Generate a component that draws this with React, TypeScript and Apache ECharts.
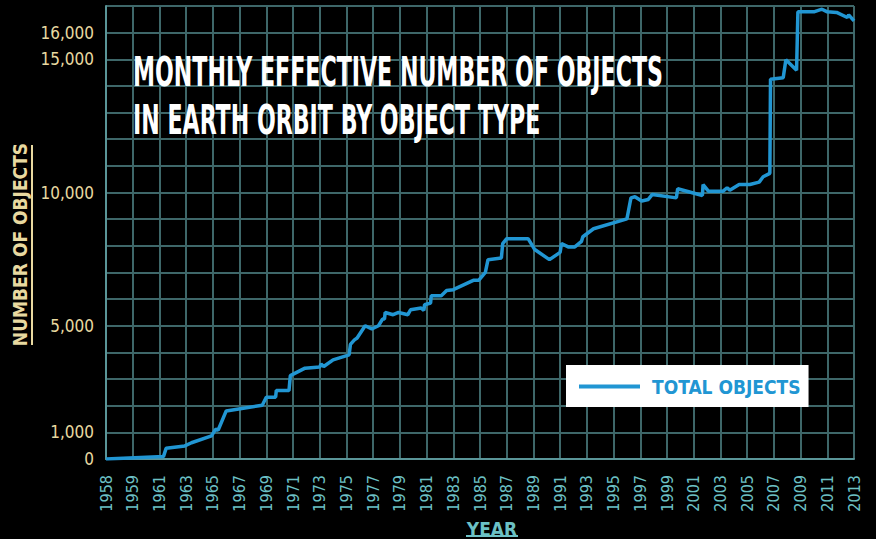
import React, { useEffect, useRef } from "react";
import * as echarts from "echarts";

// Year (decimal) and effective number of objects
const years: number[] = [
  1958.0, 1961.3, 1961.5, 1962.9, 1963.4, 1964.9, 1965.2, 1965.4, 1966.0, 1968.7,
  1969.0, 1969.7, 1969.75, 1970.7, 1970.8, 1971.9, 1973.0, 1973.1, 1973.3, 1974.0,
  1975.2, 1975.3, 1975.6, 1975.8, 1976.4, 1976.9, 1977.4, 1977.7, 1977.85, 1977.9,
  1978.5, 1978.9, 1979.6, 1979.8, 1980.6, 1980.8, 1980.85, 1981.3, 1981.35, 1982.1,
  1982.5, 1983.0, 1984.5, 1984.9, 1985.4, 1985.6, 1986.6, 1986.7, 1987.0, 1988.6,
  1989.1, 1990.2, 1991.0, 1991.1, 1991.6, 1992.1, 1992.6, 1992.7, 1993.5, 1996.0,
  1996.3, 1996.6, 1997.1, 1997.6, 1997.9, 1999.7, 1999.8, 2001.65, 2001.7, 2002.1,
  2003.2, 2003.5, 2003.7, 2004.4, 2005.2, 2005.9, 2006.2, 2006.7, 2006.75, 2007.7,
  2007.9, 2008.7, 2008.8, 2010.0, 2010.6, 2011.0, 2011.7, 2012.5, 2012.6, 2013.0,
];
const totalObjects: number[] = [
  0, 90, 400, 490, 610, 865, 1115, 1090, 1805, 2020,
  2320, 2320, 2570, 2570, 3130, 3410, 3450, 3570, 3470, 3720,
  3910, 4300, 4470, 4540, 5000, 4880, 5000, 5250, 5250, 5500,
  5415, 5500, 5415, 5600, 5665, 5580, 5790, 5855, 6130, 6130,
  6320, 6355, 6705, 6705, 7005, 7480, 7545, 8085, 8270, 8270,
  7860, 7480, 7755, 8085, 7960, 7960, 8170, 8340, 8640, 9010,
  9800, 9840, 9680, 9740, 9930, 9800, 10140, 9890, 10300, 10050,
  10050, 10180, 10090, 10300, 10300, 10390, 10590, 10720, 14250, 14310,
  14980, 14590, 16780, 16780, 16880, 16780, 16760, 16570, 16670, 16440,
];
// Tick labels of the year axis (evenly spaced, as in the original)
const yearTicks: string[] = [
  "1958", "1959", "1961", "1963", "1965", "1967", "1969", "1971", "1973", "1975",
  "1977", "1979", "1981", "1983", "1985", "1987", "1989", "1991", "1993", "1995",
  "1997", "1999", "2001", "2003", "2005", "2007", "2009", "2011", "2013",
];
const yLabelValues: number[] = [0, 1000, 5000, 10000, 15000, 16000];

const seriesName = "TOTAL OBJECTS";
const titleText = "MONTHLY EFFECTIVE NUMBER OF OBJECTS\nIN EARTH ORBIT BY OBJECT TYPE";

// Position of a year on the evenly spaced tick axis
const yearToPos = (y: number) => (y < 1959 ? y - 1958 : 1 + (y - 1959) / 2);

const FONT = '"Liberation Sans Narrow", "DejaVu Sans Condensed", "Roboto", sans-serif';
const YELLOW = "#e8d9a0";
const TEAL = "#6cc1c5";
const GRID = "#3e6769";
const BLUE = "#2196d3";

export default function App() {
  const ref = useRef<HTMLDivElement>(null);
  useEffect(() => {
    if (!ref.current) return;
    const chart = echarts.init(ref.current, null, { renderer: "svg" });
    const data = years.map((y, i) => [yearToPos(y), totalObjects[i]]);
    chart.setOption({
      animation: false,
      backgroundColor: "#000",
      textStyle: { fontFamily: FONT },
      grid: { left: 106, right: 22, top: 6, bottom: 80, containLabel: false, outerBoundsMode: "none" },
      xAxis: {
        type: "value",
        min: 0,
        max: yearTicks.length - 1,
        interval: 1,
        name: "YEAR",
        nameLocation: "middle",
        nameGap: 55,
        nameTextStyle: {
          color: TEAL,
          fontSize: 19,
          lineHeight: 19,
          fontWeight: "bold",
          fontFamily: FONT,
          padding: [0, 0, 0, 24],
        },
        axisLine: { show: true, lineStyle: { color: "#5a9598", width: 2 } },
        axisTick: { show: false },
        splitLine: { show: true, lineStyle: { color: GRID, width: 2 } },
        axisLabel: {
          rotate: 90,
          margin: 16,
          color: TEAL,
          fontSize: 16,
          fontFamily: FONT,
          formatter: (v: number) => yearTicks[Math.round(v)] ?? "",
        },
      },
      yAxis: {
        type: "value",
        min: 0,
        max: 17000,
        interval: 1000,
        name: "NUMBER OF OBJECTS",
        nameLocation: "middle",
        nameRotate: 90,
        nameGap: 76,
        nameTextStyle: { color: YELLOW, fontSize: 19, fontWeight: "bold", fontFamily: FONT, padding: [0, 24, 0, 0] },
        axisLine: { show: true, lineStyle: { color: "#5a9598", width: 2 } },
        axisTick: { show: false },
        splitLine: { show: true, lineStyle: { color: GRID, width: 2 } },
        axisLabel: {
          margin: 12,
          color: YELLOW,
          fontSize: 17,
          fontFamily: FONT,
          formatter: (v: number) => (yLabelValues.includes(v) ? v.toLocaleString("en-US") : ""),
        },
      },
      legend: {
        left: 566,
        top: 365,
        backgroundColor: "#fff",
        padding: [12, 8, 11, 13],
        icon: "rect",
        itemWidth: 61,
        itemHeight: 4,
        textStyle: { color: BLUE, fontSize: 19, fontWeight: "bold", fontFamily: FONT, padding: [0, 0, 0, 7] },
        data: [seriesName],
      },
      series: [
        {
          name: seriesName,
          type: "line",
          data,
          showSymbol: false,
          symbol: "none",
          lineStyle: { color: BLUE, width: 3.5 },
          itemStyle: { color: BLUE },
        },
      ],
      graphic: [
        {
          type: "text",
          x: 133,
          y: 48,
          scaleX: 0.6,
          style: {
            text: titleText,
            fill: "#ffffff",
            font: `bold 41px ${FONT}`,
            lineHeight: 48,
            textVerticalAlign: "top",
          },
          z: 10,
        },
        {
          type: "line",
          shape: { x1: 32, y1: 145, x2: 32, y2: 345 },
          style: { stroke: YELLOW, lineWidth: 2 },
        },
        {
          type: "line",
          shape: { x1: 466, y1: 536, x2: 518, y2: 536 },
          style: { stroke: TEAL, lineWidth: 2 },
        },
      ],
    });
    return () => chart.dispose();
  }, []);
  return (
    <div
      ref={ref}
      style={{ position: "fixed", left: 0, top: 0, width: 876, height: 539, background: "#000" }}
    />
  );
}
